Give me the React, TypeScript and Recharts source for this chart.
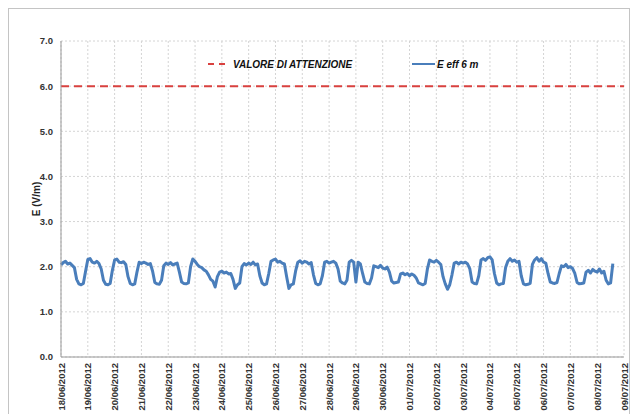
import { LineChart, Line, XAxis, YAxis, CartesianGrid, Legend, Label } from "recharts";

// tick labels (one per day, midnight)
const DAYS = [
  "18/06/2012", "19/06/2012", "20/06/2012", "21/06/2012", "22/06/2012", "23/06/2012",
  "24/06/2012", "25/06/2012", "26/06/2012", "27/06/2012", "28/06/2012", "29/06/2012",
  "30/06/2012", "01/07/2012", "02/07/2012", "03/07/2012", "04/07/2012", "05/07/2012",
  "06/07/2012", "07/07/2012", "08/07/2012", "09/07/2012",
];
const Y_TICKS = [0, 1, 2, 3, 4, 5, 6, 7];

const THRESHOLD = 6.0; // valore di attenzione, V/m
const STEP_HOURS = 2;

// E eff at 6 m, one row per day, sampled every 2 hours (V/m)
const E_EFF_6M = [
  [2.04, 2.09, 2.12, 2.06, 2.08, 2.03, 1.98, 1.72, 1.62, 1.6, 1.63, 1.9],
  [2.16, 2.18, 2.1, 2.08, 2.12, 2.07, 1.95, 1.7, 1.61, 1.6, 1.63, 1.92],
  [2.15, 2.17, 2.1, 2.09, 2.11, 2.05, 1.78, 1.63, 1.6, 1.62, 1.88, 2.1],
  [2.07, 2.1, 2.08, 2.05, 2.07, 1.9, 1.65, 1.62, 1.61, 1.7, 2.02, 2.08],
  [2.05, 2.09, 2.04, 2.06, 2.08, 1.88, 1.66, 1.63, 1.62, 1.64, 2.0, 2.17],
  [2.12, 2.05, 2.0, 1.98, 1.93, 1.9, 1.82, 1.72, 1.68, 1.55, 1.78, 1.88],
  [1.9, 1.86, 1.88, 1.84, 1.85, 1.72, 1.52, 1.6, 1.64, 2.0, 2.07, 2.04],
  [2.08, 2.05, 2.1, 2.04, 2.06, 1.8, 1.64, 1.6, 1.62, 1.85, 2.12, 2.15],
  [2.17, 2.1, 2.12, 2.08, 2.06, 1.78, 1.52, 1.6, 1.62, 1.9, 2.1, 2.13],
  [2.08, 2.12, 2.1, 2.06, 2.09, 1.82, 1.63, 1.6, 1.62, 1.8, 2.1, 2.12],
  [2.08, 2.1, 2.12, 2.08, 1.95, 1.68, 1.64, 1.62, 1.7, 2.1, 2.14, 2.1],
  [1.66, 2.1, 2.06, 1.85, 1.66, 1.63, 1.62, 1.75, 2.02, 2.0, 1.98, 2.03],
  [1.97, 1.95, 1.99, 1.88, 1.68, 1.64, 1.65, 1.66, 1.84, 1.86, 1.82, 1.85],
  [1.8, 1.84, 1.81, 1.75, 1.64, 1.62, 1.6, 1.63, 1.95, 2.15, 2.12, 2.1],
  [2.14, 2.1, 2.05, 1.78, 1.62, 1.5, 1.6, 1.82, 2.08, 2.1, 2.06, 2.1],
  [2.08, 2.1, 2.06, 1.95, 1.66, 1.63, 1.62, 1.8, 2.15, 2.18, 2.14, 2.2],
  [2.22, 2.15, 1.85, 1.64, 1.6, 1.62, 1.63, 1.98, 2.12, 2.18, 2.12, 2.15],
  [2.1, 2.12, 1.8, 1.62, 1.6, 1.61, 1.63, 2.05, 2.15, 2.2, 2.12, 2.18],
  [2.1, 2.08, 1.85, 1.66, 1.64, 1.63, 1.65, 1.85, 2.02, 2.0, 2.05, 1.98],
  [2.0, 1.96, 1.85, 1.65, 1.62, 1.63, 1.64, 1.88, 1.92, 1.86, 1.94, 1.9],
  [1.88, 1.95, 1.86, 1.9, 1.7, 1.62, 1.64, 2.07],
];

const data = E_EFF_6M.flatMap((row, d) =>
  row.map((v, k) => ({ t: d + (k * STEP_HOURS) / 24, e: v }))
);
const lastDay = DAYS.length - 1;
const soglia = [{ t: 0, s: THRESHOLD }, { t: lastDay, s: THRESHOLD }];

const BLUE = "#4a7ebb";
const RED = "#d9413f";
const FONT = "'Liberation Sans', Arial, sans-serif";

function DateTick({ x, y, payload }: any) {
  return (
    <text
      x={x}
      y={y - 2}
      dy={3.5}
      transform={`rotate(-90, ${x}, ${y - 2})`}
      textAnchor="end"
      fontSize={9.5}
      fontWeight="bold"
      fontFamily={FONT}
      fill="#333"
    >
      {DAYS[payload.value]}
    </text>
  );
}

const LEGEND_POS: Record<string, { left: number; icon: number; gap: number }> = {
  "VALORE DI ATTENZIONE": { left: 199, icon: 17, gap: 8 },
  "E eff 6 m": { left: 403, icon: 23, gap: 2 },
};

function LegendContent({ payload }: any) {
  return (
    <div style={{ position: "relative", height: 20 }}>
      {(payload || []).map((entry: any) => {
        const pos = LEGEND_POS[entry.value] || { left: 0, icon: 20, gap: 4 };
        const dashed = entry.value === "VALORE DI ATTENZIONE";
        return (
          <div
            key={entry.value}
            style={{ position: "absolute", left: pos.left, top: 0, height: 20, display: "flex", alignItems: "center" }}
          >
            <svg width={pos.icon} height={10} style={{ marginRight: pos.gap }}>
              <line
                x1={0} y1={5} x2={pos.icon} y2={5}
                stroke={entry.color}
                strokeWidth={2}
                strokeDasharray={dashed ? "6 5" : undefined}
              />
            </svg>
            <span style={{ fontFamily: FONT, fontSize: 10, fontWeight: "bold", fontStyle: "italic", color: "#111" }}>
              {entry.value}
            </span>
          </div>
        );
      })}
    </div>
  );
}

export default function App() {
  return (
    <div style={{ border: "1px solid #c4c4c4", width: 620, height: 430, background: "#fff" }}>
      <LineChart width={620} height={420} data={data} margin={{ top: 32, right: 5, bottom: 0, left: 0 }}>
        <CartesianGrid stroke="#d4d4d4" strokeDasharray="2 2" />
        <XAxis
          dataKey="t"
          type="number"
          domain={[0, lastDay]}
          ticks={DAYS.map((_, i) => i)}
          interval={0}
          tick={<DateTick />}
          tickLine={false}
          axisLine={{ stroke: "#999" }}
          height={72}
        />
        <YAxis
          domain={[0, 7]}
          ticks={Y_TICKS}
          tickFormatter={(v: number) => v.toFixed(1)}
          tick={{ fontSize: 9.5, fontWeight: "bold", fill: "#333", fontFamily: FONT }}
          tickLine={false}
          axisLine={{ stroke: "#999" }}
          width={52}
        >
          <Label
            content={({ viewBox }: any) => {
              const cx = 31;
              const cy = viewBox ? viewBox.y + viewBox.height / 2 : 190;
              return (
                <text
                  x={cx}
                  y={cy}
                  transform={`rotate(-90, ${cx}, ${cy})`}
                  textAnchor="middle"
                  fontSize={10}
                  fontWeight="bold"
                  fontFamily={FONT}
                  fill="#222"
                >
                  E (V/m)
                </text>
              );
            }}
          />
        </YAxis>
        <Legend
          layout="horizontal"
          verticalAlign="middle"
          align="center"
          wrapperStyle={{ top: 45, left: 0, width: 620, height: 20 }}
          content={<LegendContent />}
        />
        <Line
          data={soglia}
          dataKey="s"
          name="VALORE DI ATTENZIONE"
          stroke={RED}
          strokeWidth={2}
          strokeDasharray="8 5"
          dot={false}
          activeDot={false}
          isAnimationActive={false}
        />
        <Line
          dataKey="e"
          name="E eff 6 m"
          type="linear"
          stroke={BLUE}
          strokeWidth={3}
          strokeLinejoin="round"
          dot={false}
          activeDot={false}
          isAnimationActive={false}
        />
      </LineChart>
    </div>
  );
}
